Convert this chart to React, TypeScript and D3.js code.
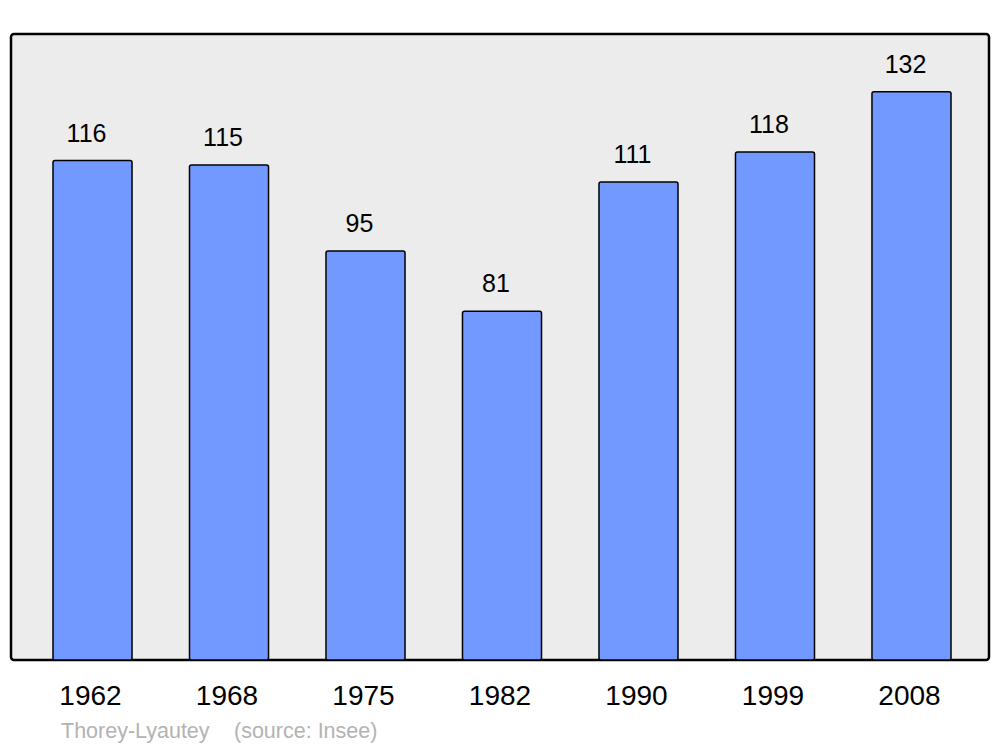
import React from "react";
import * as d3 from "d3";

const years = ["1962", "1968", "1975", "1982", "1990", "1999", "2008"];
const population = [116, 115, 95, 81, 111, 118, 132];
const footerName = "Thorey-Lyautey";
const footerSource = "(source: Insee)";

export default function App() {
  const W = 1000;
  const H = 747;
  const frame = { x0: 11, y0: 34, x1: 989, y1: 660 };
  const x = d3.scaleBand<string>().domain(years).range([53, 951]).paddingInner(0.421).paddingOuter(0);
  const y = d3.scaleLinear().domain([0, 145.4]).range([frame.y1, frame.y0]);
  const font = "'Liberation Sans', Arial, sans-serif";
  return (
    <svg width={W} height={H} style={{ position: "absolute", left: 0, top: 0 }}>
      <rect x={0} y={0} width={W} height={H} fill="#ffffff" />
      <rect
        x={frame.x0}
        y={frame.y0}
        width={frame.x1 - frame.x0}
        height={frame.y1 - frame.y0}
        rx={3}
        fill="#ececec"
        stroke="#000"
        strokeWidth={2.5}
      />
      {years.map((yr, i) => {
        const bx = x(yr) as number;
        const bw = x.bandwidth();
        const top = y(population[i]);
        return (
          <g key={yr}>
            <rect
              x={bx}
              y={top}
              width={bw}
              height={frame.y1 - top}
              rx={2}
              fill="#7299ff"
              stroke="#000"
              strokeWidth={1.5}
            />
            <text
              x={bx + bw / 2 - 6}
              y={top - 19}
              textAnchor="middle"
              fontFamily={font}
              fontSize={25}
              fill="#000"
            >
              {population[i]}
            </text>
            <text
              x={bx + bw / 2 - 2}
              y={704.5}
              textAnchor="middle"
              fontFamily={font}
              fontSize={28}
              fill="#000"
            >
              {yr}
            </text>
          </g>
        );
      })}
      <text x={61} y={737.5} fontFamily={font} fontSize={21.5} fill="#b3b3b3">
        {footerName}
      </text>
      <text x={234} y={737.5} fontFamily={font} fontSize={21.5} fill="#b3b3b3">
        {footerSource}
      </text>
    </svg>
  );
}
